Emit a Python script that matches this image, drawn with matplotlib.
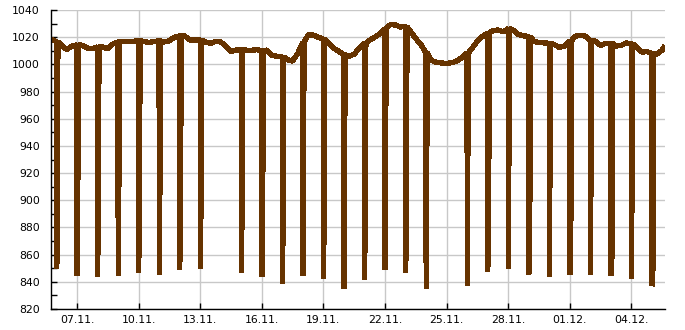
import numpy as np
import pandas as pd
import matplotlib
matplotlib.use("Agg")
import matplotlib.pyplot as plt
import matplotlib.dates as mdates
from matplotlib.ticker import MultipleLocator

# ------------------ data ------------------
# air pressure every 6 hours, starting 05.11. 18:00
start = pd.Timestamp("2023-11-05 18:00")
pressure = [
    1018.6, 1016.7, 1014.0, 1011.0, 1013.3, 1014.5, 1014.0, 1012.0, 1011.5, 1012.8,
    1012.8, 1011.5, 1015.0, 1016.5, 1017.0, 1017.0, 1017.0, 1017.3, 1017.0, 1016.0,
    1016.8, 1017.3, 1016.5, 1017.4, 1020.0, 1021.0, 1020.8, 1018.0, 1018.0, 1018.0,
    1016.5, 1015.5, 1016.8, 1016.5, 1013.5, 1009.5, 1010.5, 1011.0, 1010.4, 1010.4,
    1010.8, 1010.0, 1010.5, 1006.5, 1006.0, 1005.5, 1003.4, 1002.5, 1008.0, 1016.5,
    1021.5, 1021.5, 1020.0, 1018.5, 1016.0, 1012.0, 1009.6, 1007.0, 1006.0, 1007.5,
    1012.0, 1015.5, 1017.8, 1020.0, 1022.5, 1026.3, 1029.2, 1029.0, 1027.5, 1028.0,
    1024.0, 1019.0, 1014.5, 1008.5, 1003.0, 1001.5, 1001.0, 1000.7, 1001.2, 1002.5,
    1005.0, 1008.6, 1012.0, 1017.0, 1020.5, 1023.0, 1024.8, 1025.3, 1024.0, 1026.3,
    1025.0, 1022.0, 1021.0, 1020.5, 1017.0, 1016.0, 1015.8, 1015.5, 1014.5, 1012.5,
    1013.5, 1017.0, 1020.5, 1021.5, 1020.7, 1017.5, 1017.0, 1014.0, 1015.5, 1015.5,
    1013.5, 1014.0, 1015.7, 1015.2, 1013.0, 1009.0, 1009.4, 1008.0, 1007.5, 1010.5,
]
last_time = pd.Timestamp("2023-12-05 15:00")
last_value = 1013.7

# sensor glitches shortly after midnight: lowest value, then second reading
glitch_days = ["06.11", "07.11", "08.11", "09.11", "10.11", "11.11", "12.11", "13.11",
               "15.11", "16.11", "17.11", "18.11", "19.11", "20.11", "21.11", "22.11",
               "23.11", "24.11", "26.11", "27.11", "28.11", "29.11", "30.11", "01.12",
               "02.12", "03.12", "04.12", "05.12"]
glitch_low = [850, 844.7, 844, 844.7, 846.8, 845.4, 849, 849.6,
              846.8, 844, 839, 844.7, 842.6, 834.8, 841.9, 849,
              846.8, 834.8, 837, 847.5, 849.6, 845.4, 844, 845.4,
              845.4, 844.7, 842.6, 837]
glitch_high = [864, 942, 928, 944, 932, 944, 935, 919,
               914, 926, 907, 1000, 915, 992, 914, 1011,
               890, 989, 993, 891, 981, 888, 970, 887,
               975, 859, 970, 851]

# ------------------ build series ------------------
times = [start + pd.Timedelta(hours=6 * i) for i in range(len(pressure))]
t_all = list(times)
v_all = list(pressure)
for day, lo, hi in zip(glitch_days, glitch_low, glitch_high):
    d, m = day.split(".")
    t0 = pd.Timestamp(2023, int(m), int(d))
    base = pressure[times.index(t0)]
    t_all += [t0 + pd.Timedelta(minutes=10), t0 + pd.Timedelta(minutes=80),
              t0 + pd.Timedelta(minutes=100)]
    v_all += [lo, hi, base]
t_all.append(last_time)
v_all.append(last_value)

df = pd.DataFrame({"t": t_all, "p": v_all}).sort_values("t")

# ------------------ plot ------------------
fig = plt.figure(figsize=(6.85, 3.30), dpi=100)
ax = fig.add_axes([0.0745, 0.0636, 0.8963, 0.9061])

ax.plot(df["t"], df["p"], color="#663300", lw=3.1, solid_joinstyle="bevel",
        solid_capstyle="butt", antialiased=False)

ax.set_ylim(820, 1040)
ax.set_xlim(pd.Timestamp("2023-11-05 17:40"), pd.Timestamp("2023-12-05 15:20"))
ax.yaxis.set_major_locator(MultipleLocator(20))
ax.yaxis.set_minor_locator(MultipleLocator(10))
ax.xaxis.set_major_locator(mdates.DayLocator(bymonthday=[7, 10, 13, 16, 19, 22, 25, 28, 1, 4]))
ax.xaxis.set_major_formatter(mdates.DateFormatter("%d.%m."))

ax.grid(True, which="major", color="#c8c8c8", lw=1.0)
ax.set_axisbelow(True)
for s in ["top", "right"]:
    ax.spines[s].set_visible(False)
for s in ["left", "bottom"]:
    ax.spines[s].set_color("black")
    ax.spines[s].set_linewidth(1.0)

ax.tick_params(axis="both", which="both", direction="in", length=4, width=1,
               labelsize=7.8, colors="black")
ax.tick_params(axis="y", pad=8)
ax.tick_params(axis="x", pad=4)

fig.savefig("out.png", dpi=100)
